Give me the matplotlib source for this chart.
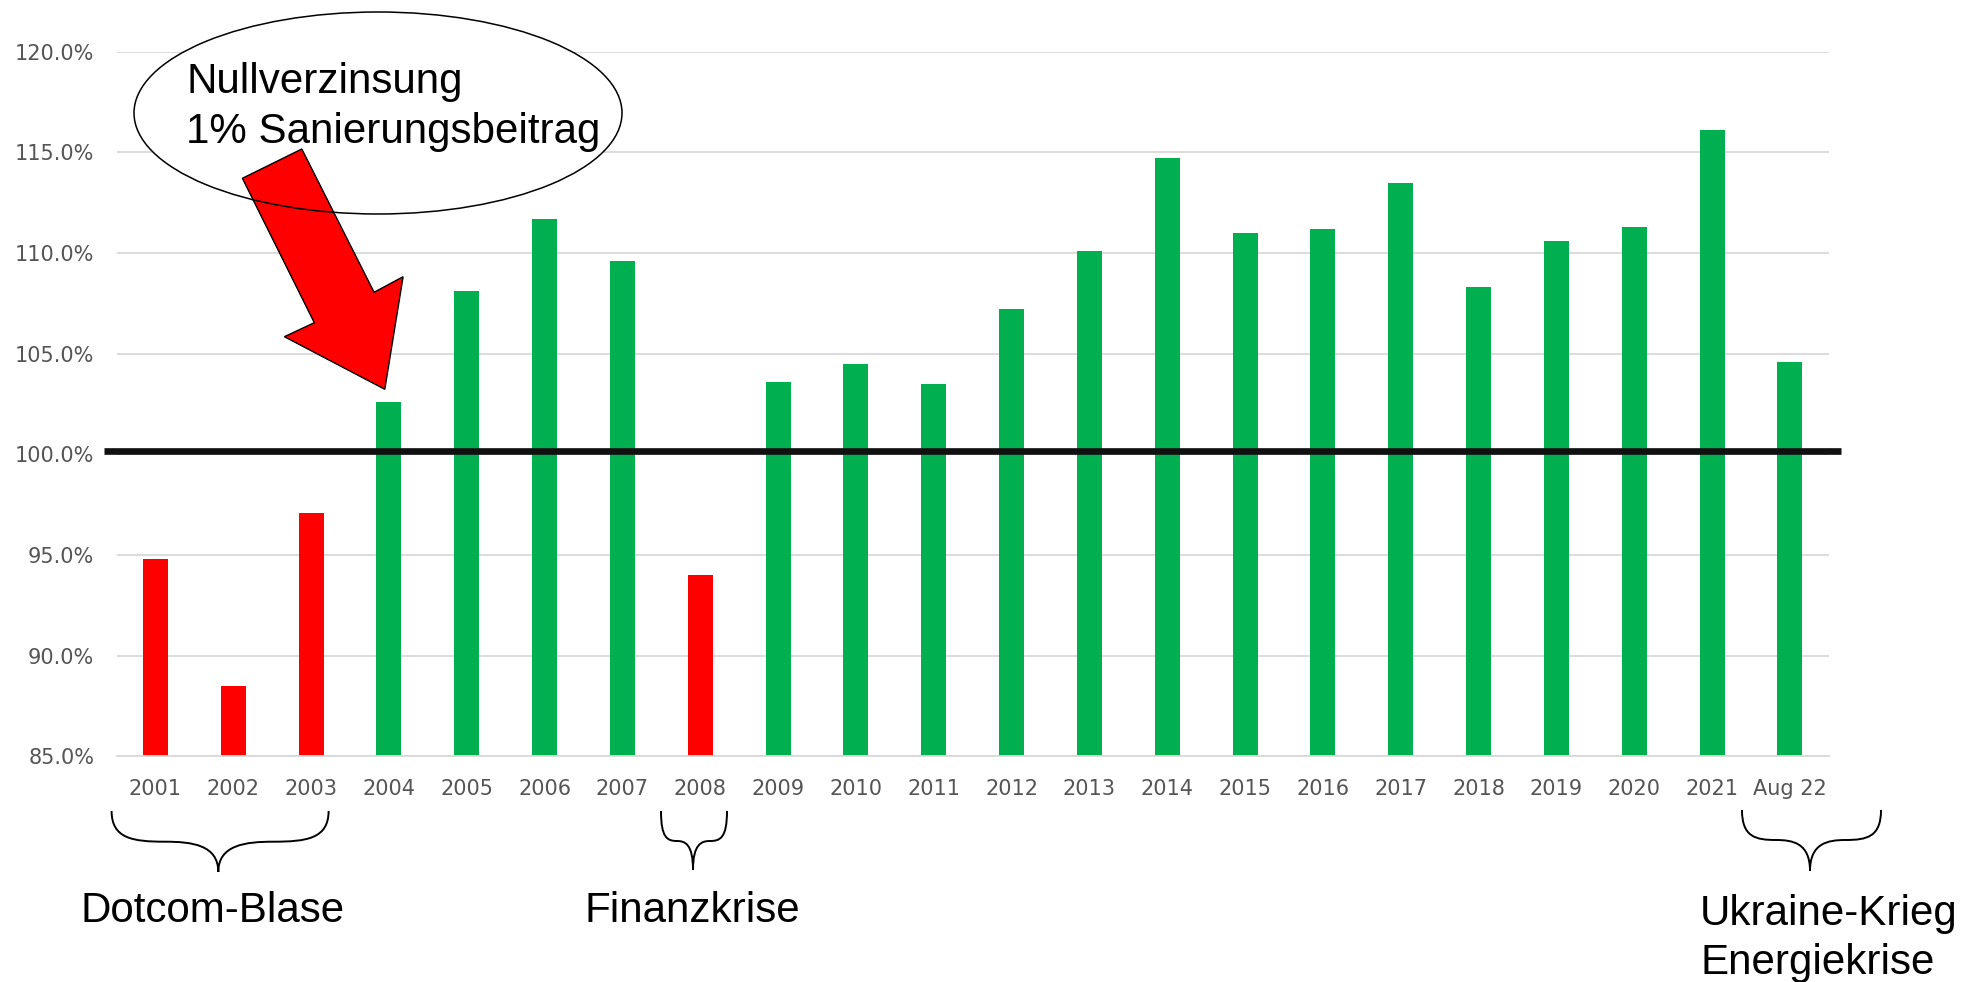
import numpy as np
import matplotlib.pyplot as plt
from matplotlib.patches import Ellipse, Polygon, PathPatch
from matplotlib.path import Path
from matplotlib.transforms import Affine2D

labels = ['2001', '2002', '2003', '2004', '2005', '2006', '2007', '2008', '2009', '2010',
          '2011', '2012', '2013', '2014', '2015', '2016', '2017', '2018', '2019', '2020',
          '2021', 'Aug 22']
values = [94.8, 88.5, 97.1, 102.6, 108.1, 111.7, 109.6, 94.0, 103.6, 104.5,
          103.5, 107.2, 110.1, 114.7, 111.0, 111.2, 113.5, 108.3, 110.6, 111.3,
          116.1, 104.6]
yticks = [85, 90, 95, 100, 105, 110, 115, 120]

W, H = 1966, 982
fig = plt.figure(figsize=(W / 100, H / 100), dpi=100)
ax = fig.add_axes([116.5 / W, 1 - 756.3 / H, (1828.8 - 116.5) / W, (756.3 - 51.7) / H])

x = np.arange(len(values))
colors = ['#FF0000' if v < 100 else '#00B050' for v in values]
ax.bar(x, values, width=0.32, color=colors, zorder=2)

ax.set_xlim(-0.5, len(values) - 0.5)
ax.set_ylim(85, 120)
ax.set_xticks(x)
ax.set_xticklabels(labels)
ax.set_yticks(yticks)
ax.set_yticklabels([f'{t:.1f}%' for t in yticks])
ax.tick_params(axis='both', length=0, labelsize=15, labelcolor='#555555')
ax.tick_params(axis='x', pad=16)
ax.tick_params(axis='y', pad=16)
ax.yaxis.grid(True, color='#D9D9D9', lw=1.3)
ax.set_axisbelow(True)
for s in ['top', 'right', 'left']:
    ax.spines[s].set_visible(False)
ax.spines['bottom'].set_color('#D9D9D9')
ax.spines['bottom'].set_linewidth(1.3)

# thick 100% line, a bit wider than the plot area
ax.plot([-0.666, len(values) - 0.34], [100.18, 100.18], color='#111111', lw=4.8,
        clip_on=False, zorder=3, solid_capstyle='butt')

# helper transform: pixel coords of the picture (origin top-left)
pxt = Affine2D().scale(1 / W, -1 / H).translate(0, 1) + fig.transFigure

fig.add_artist(Ellipse((378, 113), 488, 202, transform=pxt, facecolor='white',
                       edgecolor='none', zorder=5))
arrow = [(242.4, 178.3), (301.8, 149), (374.1, 292.3), (403.1, 276.7),
         (384.8, 389.3), (284.4, 336.7), (314.3, 322.7)]
fig.add_artist(Polygon(arrow, closed=True, transform=pxt, facecolor='#FF0000',
                       edgecolor='black', lw=1.0, zorder=6))
fig.add_artist(Ellipse((378, 113), 488, 202, transform=pxt, facecolor='none',
                       edgecolor='black', lw=1.1, zorder=7))

big = dict(fontsize=30.3, family=['Liberation Sans', 'DejaVu Sans'], color='black',
           transform=pxt, va='baseline', zorder=8)
fig.text(186, 93, 'Nullverzinsung', ha='left', **big)
fig.text(186, 143, '1% Sanierungsbeitrag', ha='left', **big)


def brace(left, right, center, y0, ym, y1):
    wl = center - left
    wr = right - center
    verts = [(left, y0),
             (left, y0 + (ym - y0) * 0.9), (left + wl * 0.2, ym), (left + wl * 0.5, ym),
             (center - wl * 0.25, ym), (center, ym + (y1 - ym) * 0.1), (center, y1),
             (center, ym + (y1 - ym) * 0.1), (center + wr * 0.25, ym), (right - wr * 0.5, ym),
             (right - wr * 0.2, ym), (right, y0 + (ym - y0) * 0.9), (right, y0)]
    codes = [Path.MOVETO] + [Path.CURVE4] * 12
    fig.add_artist(PathPatch(Path(verts, codes), transform=pxt, facecolor='none',
                             edgecolor='black', lw=1.4, zorder=6))


brace(111.6, 328.6, 218.3, 811, 841.7, 872)
brace(661, 727, 693, 811, 841, 870)
brace(1742, 1881, 1810, 810, 840, 871)

fig.text(213, 922, 'Dotcom-Blase', ha='center', **big)
fig.text(692, 922, 'Finanzkrise', ha='center', **big)
fig.text(1700, 925, 'Ukraine-Krieg', ha='left', **big)
fig.text(1700, 974, 'Energiekrise', ha='left', **big)

fig.savefig('out.png', dpi=100)
